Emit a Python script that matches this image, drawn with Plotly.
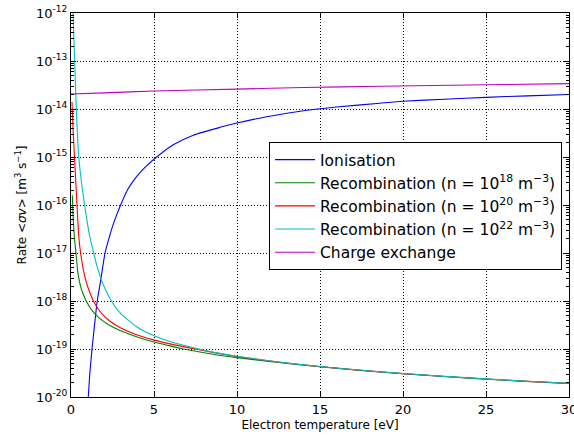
import plotly.graph_objects as go

# Electron temperature [eV] and rate coefficients [m^3 s^-1]
T_ion = [1.04, 1.13, 1.24, 1.35, 1.45, 1.58, 1.79, 2.05, 2.3, 2.6, 2.99, 3.45, 3.95, 4.5, 5.16, 6.16, 7.37,
         8.98, 10, 11.8, 13.8, 16, 18.6, 20, 22.5, 25, 27.5, 30]
R_ion = [1e-20, 3e-20, 8e-20, 1.9e-19, 4e-19, 1e-18, 2.7e-18, 1e-17, 2.1e-17, 4.5e-17, 1e-16, 2.2e-16, 3.9e-16,
         6.3e-16, 1e-15, 1.8e-15, 2.85e-15, 4.15e-15, 5.1e-15, 6.9e-15, 9e-15, 1.1e-14, 1.32e-14, 1.45e-14,
         1.6e-14, 1.75e-14, 1.88e-14, 2.0e-14]

T_rec18 = [0.08, 0.15, 0.22, 0.30, 0.42, 0.58, 0.75, 0.92, 1.14, 1.43, 1.75, 2.15, 2.63, 3.3, 4.16, 5.0, 5.8,
           6.57, 7.6, 8.8, 10, 12.5, 15, 17.5, 20, 22.5, 25, 27.5, 30]
R_rec18 = [1.6e-16, 4e-17, 1.86e-17, 1e-17, 3.8e-18, 2e-18, 1.35e-18, 1e-18, 7.33e-19, 5.46e-19, 4.3e-19,
           3.41e-19, 2.75e-19, 2.17e-19, 1.7e-19, 1.4e-19, 1.2e-19, 1.04e-19, 8.9e-20, 7.5e-20, 6.6e-20,
           5.25e-20, 4.27e-20, 3.57e-20, 3.06e-20, 2.67e-20, 2.36e-20, 2.11e-20, 1.91e-20]

T_rec20 = [0.06, 0.12, 0.18, 0.27, 0.36, 0.48, 0.58, 0.76, 0.95, 1.14, 1.35, 1.6, 1.83, 2.35, 3.03, 3.95, 4.9,
           5.96, 7.57, 8.8, 10, 12.5, 15, 17.5, 20, 22.5, 25, 27.5, 30]
R_rec20 = [1.4e-14, 4e-15, 1.6e-15, 4e-16, 1e-16, 2e-17, 1e-17, 4.17e-18, 2.29e-18, 1.49e-18, 1e-18, 7.13e-19,
           5.6e-19, 3.79e-19, 2.7e-19, 1.98e-19, 1.57e-19, 1.28e-19, 9.9e-20, 8.2e-20, 7.0e-20, 5.33e-20,
           4.3e-20, 3.59e-20, 3.07e-20, 2.68e-20, 2.37e-20, 2.12e-20, 1.92e-20]

T_rec22 = [0.10, 0.12, 0.22, 0.32, 0.47, 0.62, 0.82, 0.95, 1.1, 1.35, 1.6, 1.85, 2.1, 2.4, 3.0, 4.0, 5.0, 6.0,
           7.7, 8.8, 10, 12.5, 15, 17.5, 20, 22.5, 25, 27.5, 30]
R_rec22 = [2e-12, 1e-12, 1e-13, 1e-14, 1e-15, 3.2e-16, 1e-16, 5e-17, 2.5e-17, 1.05e-17, 4.83e-18, 2.66e-18,
           1.66e-18, 1.05e-18, 5.46e-19, 2.85e-19, 1.88e-19, 1.41e-19, 1.0e-19, 8.3e-20, 7.06e-20, 5.35e-20,
           4.31e-20, 3.6e-20, 3.08e-20, 2.69e-20, 2.38e-20, 2.13e-20, 1.93e-20]

T_cx = [0, 2, 5, 10, 14, 18.6, 25, 30]
R_cx = [2.05e-14, 2.17e-14, 2.37e-14, 2.6e-14, 2.8e-14, 2.97e-14, 3.2e-14, 3.37e-14]

x_ticks = [0, 5, 10, 15, 20, 25, 30]
y_ticks = [1e-20, 1e-19, 1e-18, 1e-17, 1e-16, 1e-15, 1e-14, 1e-13, 1e-12]
y_ticktext = ["10<sup>-20</sup>", "10<sup>-19</sup>", "10<sup>-18</sup>", "10<sup>-17</sup>",
              "10<sup>-16</sup>", "10<sup>-15</sup>", "10<sup>-14</sup>", "10<sup>-13</sup>", "10<sup>-12</sup>"]
y_minor = [m * 10.0 ** e for e in range(-20, -12) for m in range(2, 10)]

series = [
    ("Ionisation", T_ion, R_ion, "#0000ff"),
    ("Recombination (n = 10<sup>18</sup> m<sup>−3</sup>)", T_rec18, R_rec18, "#008000"),
    ("Recombination (n = 10<sup>20</sup> m<sup>−3</sup>)", T_rec20, R_rec20, "#ff0000"),
    ("Recombination (n = 10<sup>22</sup> m<sup>−3</sup>)", T_rec22, R_rec22, "#00bfbf"),
    ("Charge exchange", T_cx, R_cx, "#bf00bf"),
]

fig = go.Figure()
for name, xs, ys, col in series:
    fig.add_trace(go.Scatter(x=xs, y=ys, mode="lines", name=name,
                             line=dict(color=col, width=1.1, shape="spline", smoothing=0.6)))

font = "DejaVu Sans"
fig.update_layout(
    width=574, height=437,
    margin=dict(l=71, r=5, t=13, b=40),
    paper_bgcolor="white", plot_bgcolor="white",
    font=dict(family=font, size=12, color="black"),
    showlegend=True,
    legend=dict(x=0.986, y=0.664, xanchor="right", yanchor="top",
                bordercolor="black", borderwidth=1, bgcolor="white", itemwidth=40,
                font=dict(family=font, size=15.5), tracegroupgap=0),
)
fig.update_xaxes(
    range=[0, 30], tickvals=x_ticks, ticks="inside", ticklen=5, tickcolor="black",
    showline=True, linecolor="black", linewidth=1, mirror="ticks", automargin=False,
    ticklabeloverflow="allow",
    showgrid=True, gridcolor="black", griddash="1px,2px", gridwidth=1, zeroline=False,
    title=dict(text="Electron temperature [eV]", font=dict(size=12), standoff=5),
    tickfont=dict(size=13),
)
fig.update_yaxes(
    type="log", range=[-20, -12], tickvals=y_ticks, ticktext=y_ticktext,
    ticks="inside", ticklen=5, tickcolor="black", automargin=False,
    ticklabeloverflow="allow",
    minor=dict(tickmode="array", tickvals=y_minor, ticks="inside", ticklen=3, tickcolor="black", showgrid=False),
    showline=True, linecolor="black", linewidth=1, mirror="ticks",
    showgrid=True, gridcolor="black", griddash="1px,2px", gridwidth=1, zeroline=False,
    title=dict(text="Rate <i>&lt;σv&gt;</i> [m<sup>3</sup> s<sup>−1</sup>]", font=dict(size=12), standoff=6),
    tickfont=dict(size=13),
)

fig.write_html("out.html", config={"displayModeBar": False},
               post_script="document.body.style.margin='0';")
